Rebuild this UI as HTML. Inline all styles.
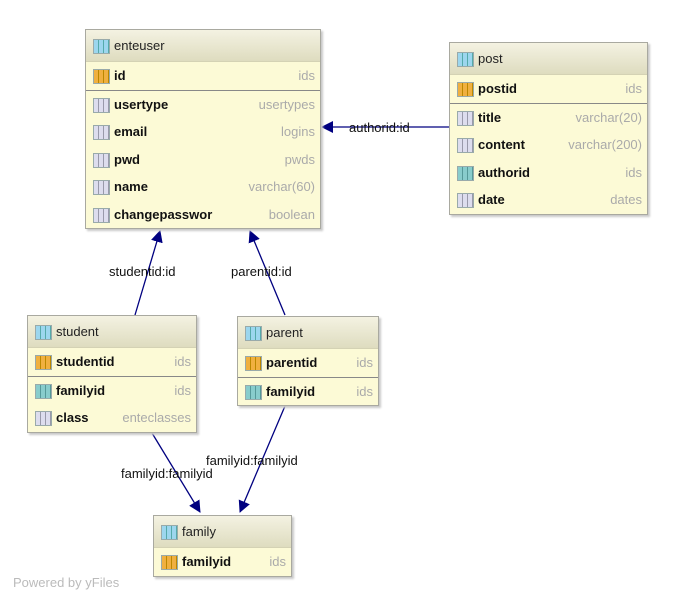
<!DOCTYPE html>
<html><head><style>
body{margin:0;width:675px;height:602px;background:#fff;position:relative;font-family:"Liberation Sans","DejaVu Sans",sans-serif;overflow:hidden}
.t{position:absolute;background:#fcfad6;border:1px solid #a9a9a0;box-shadow:2px 2px 2px #c8c8c8}
.h{height:31px;background:linear-gradient(#f4f2e2,#dedcbf);border-bottom:1px solid #d4d2b4;font-size:13px;line-height:31px;padding-left:28px;position:relative;color:#222}
.r{height:27.5px;line-height:27.5px;font-size:13px;font-weight:bold;padding-left:28px;position:relative;color:#111}
.r span{position:absolute;right:5px;font-weight:normal;color:#aaa}
.sep{border-bottom:1px solid #888}
.ic{position:absolute;left:7px;top:7px;width:15px;height:13px;border:1px solid #9aa;background:repeating-linear-gradient(90deg,#dde 0 4px,#99a 4px 5px)}
.h .ic{top:9px;background:repeating-linear-gradient(90deg,#9cd6ee 0 4px,#5aa 4px 5px)}
.k{background:repeating-linear-gradient(90deg,#f0b040 0 4px,#b80 4px 5px)}
.f{background:repeating-linear-gradient(90deg,#8cc 0 4px,#599 4px 5px)}
.l{position:absolute;font-size:13px;color:#111}
</style></head><body>
<svg width="675" height="602" style="position:absolute;left:0;top:0">
<defs><marker id="a" markerWidth="12" markerHeight="12" refX="11" refY="6" orient="auto" markerUnits="userSpaceOnUse"><path d="M0,0 L12,6 L0,12 z" fill="#000080"/></marker></defs>
<g stroke="#000080" stroke-width="1.3" fill="none">
<line x1="449" y1="127" x2="322" y2="127" marker-end="url(#a)"/>
<line x1="135" y1="315" x2="160" y2="231" marker-end="url(#a)"/>
<line x1="285" y1="315" x2="250" y2="231" marker-end="url(#a)"/>
<line x1="152" y1="433" x2="200" y2="512" marker-end="url(#a)"/>
<line x1="285" y1="406" x2="240" y2="512" marker-end="url(#a)"/>
</g></svg>
<div class="l" style="left:349px;top:120px">authorid:id</div>
<div class="l" style="left:109px;top:264px">studentid:id</div>
<div class="l" style="left:231px;top:264px">parentid:id</div>
<div class="l" style="left:121px;top:466px">familyid:familyid</div>
<div class="l" style="left:206px;top:453px">familyid:familyid</div>
<div class="l" style="left:13px;top:575px;color:#bbb">Powered by yFiles</div>

<div class="t" style="left:85px;top:29px;width:234px">
<div class="h"><i class="ic"></i>enteuser</div>
<div class="r sep"><i class="ic k"></i>id<span>ids</span></div>
<div class="r"><i class="ic"></i>usertype<span>usertypes</span></div>
<div class="r"><i class="ic"></i>email<span>logins</span></div>
<div class="r"><i class="ic"></i>pwd<span>pwds</span></div>
<div class="r"><i class="ic"></i>name<span>varchar(60)</span></div>
<div class="r"><i class="ic"></i>changepasswor<span style="background:#fcfad6;padding-left:6px">boolean</span></div>
</div>

<div class="t" style="left:449px;top:42px;width:197px">
<div class="h"><i class="ic"></i>post</div>
<div class="r sep"><i class="ic k"></i>postid<span>ids</span></div>
<div class="r"><i class="ic"></i>title<span>varchar(20)</span></div>
<div class="r"><i class="ic"></i>content<span>varchar(200)</span></div>
<div class="r"><i class="ic f"></i>authorid<span>ids</span></div>
<div class="r"><i class="ic"></i>date<span>dates</span></div>
</div>

<div class="t" style="left:27px;top:315px;width:168px">
<div class="h"><i class="ic"></i>student</div>
<div class="r sep"><i class="ic k"></i>studentid<span>ids</span></div>
<div class="r"><i class="ic f"></i>familyid<span>ids</span></div>
<div class="r"><i class="ic"></i>class<span>enteclasses</span></div>
</div>

<div class="t" style="left:237px;top:316px;width:140px">
<div class="h"><i class="ic"></i>parent</div>
<div class="r sep"><i class="ic k"></i>parentid<span>ids</span></div>
<div class="r"><i class="ic f"></i>familyid<span>ids</span></div>
</div>

<div class="t" style="left:153px;top:515px;width:137px">
<div class="h"><i class="ic"></i>family</div>
<div class="r"><i class="ic k"></i>familyid<span>ids</span></div>
</div>
</body></html>
